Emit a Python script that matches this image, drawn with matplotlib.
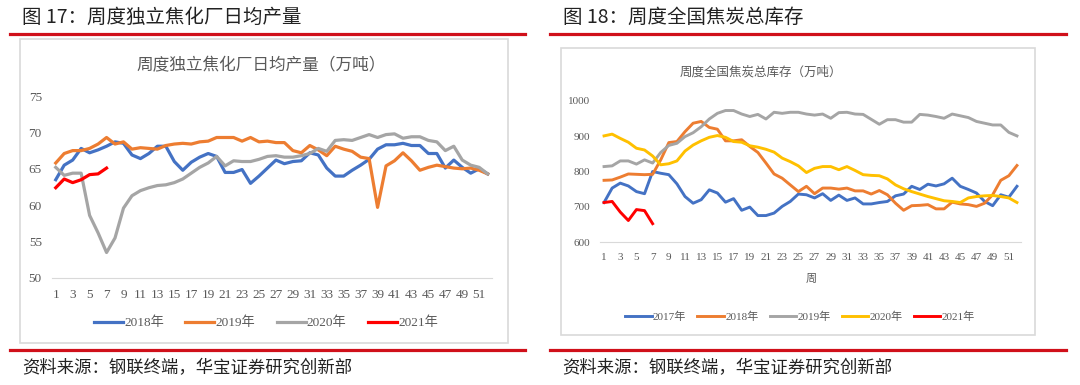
import matplotlib
matplotlib.use("Agg")
import matplotlib.pyplot as plt
from matplotlib.lines import Line2D
from matplotlib.patches import Rectangle

plt.rcParams['font.family'] = ['Noto Sans CJK SC', 'DejaVu Sans']

weeks = list(range(1, 53))

# 周度独立焦化厂日均产量（万吨）
prod_2018 = [63.5, 65.5, 66.2, 67.8, 67.2, 67.6, 68.1, 68.7, 68.5, 66.9,
             66.4, 67.1, 68.1, 68.1, 66.0, 64.8, 65.9, 66.6, 67.1, 66.7,
             64.5, 64.5, 64.9, 63.0, 64.0, 65.1, 66.2, 65.7, 66.0, 66.1,
             67.2, 66.9, 65.1, 64.0, 64.0, 64.8, 65.5, 66.3, 67.7, 68.3,
             68.3, 68.5, 68.2, 68.2, 67.1, 67.1, 65.1, 66.2, 65.2, 64.4,
             65.0, 64.3]
prod_2019 = [65.8, 67.1, 67.5, 67.5, 67.8, 68.4, 69.3, 68.4, 68.7, 67.7,
             67.9, 67.8, 67.7, 68.2, 68.4, 68.5, 68.4, 68.7, 68.8, 69.3,
             69.3, 69.3, 68.8, 69.3, 68.7, 68.8, 68.6, 68.6, 67.5, 67.2,
             68.2, 67.6, 66.8, 68.1, 67.7, 67.4, 66.6, 66.4, 59.7, 65.4,
             66.1, 67.2, 66.1, 64.8, 65.2, 65.5, 65.3, 65.1, 65.0, 65.1,
             64.8, 64.3]
prod_2020 = [65.2, 64.1, 64.4, 64.4, 58.6, 56.2, 53.5, 55.5, 59.6, 61.3,
             62.0, 62.4, 62.7, 62.8, 63.1, 63.6, 64.4, 65.2, 65.8, 66.7,
             65.4, 66.1, 66.0, 66.0, 66.3, 66.7, 66.8, 66.6, 66.6, 66.8,
             67.1, 67.8, 67.4, 68.9, 69.0, 68.9, 69.3, 69.7, 69.3, 69.7,
             69.8, 69.2, 69.4, 69.4, 68.9, 68.7, 67.5, 68.1, 66.2, 65.5,
             65.2, 64.3]
prod_2021 = [62.4, 63.6, 63.1, 63.5, 64.2, 64.3, 65.1]

# 周度全国焦炭总库存（万吨）
stock_2017 = [712, 753, 767, 759, 743, 737, 800, 795, 791, 765,
              729, 710, 720, 748, 739, 713, 723, 690, 699, 675,
              675, 682, 701, 715, 736, 734, 725, 737, 718, 733,
              718, 725, 708, 708, 712, 715, 731, 736, 758, 749,
              764, 759, 765, 781, 758, 749, 739, 715, 703, 734,
              727, 758]
stock_2018 = [775, 776, 784, 793, 792, 791, 792, 833, 882, 885,
              913, 937, 942, 925, 920, 887, 887, 890, 871, 854,
              824, 793, 781, 762, 743, 758, 737, 753, 753, 750,
              753, 745, 745, 736, 746, 734, 710, 690, 703, 704,
              706, 694, 694, 713, 708, 706, 701, 710, 734, 775,
              788, 817]
stock_2019 = [814, 816, 830, 830, 821, 833, 824, 854, 874, 880,
              899, 910, 927, 949, 965, 973, 973, 963, 956, 962,
              949, 968, 965, 968, 968, 963, 960, 963, 951, 967,
              968, 963, 962, 948, 934, 947, 947, 940, 940, 962,
              960, 956, 951, 963, 958, 953, 942, 937, 932, 932,
              911, 901]
stock_2020 = [901, 906, 894, 883, 866, 861, 844, 819, 822, 830,
              858, 875, 887, 897, 902, 897, 885, 883, 873, 869,
              863, 855, 838, 828, 816, 797, 809, 814, 814, 805,
              814, 803, 791, 789, 788, 779, 762, 751, 743, 736,
              729, 723, 717, 715, 712, 725, 729, 731, 732, 729,
              725, 712]
stock_2021 = [712, 715, 685, 661, 692, 689, 652]

left_series = [("2018年", prod_2018, "#4472C4"), ("2019年", prod_2019, "#ED7D31"),
               ("2020年", prod_2020, "#A5A5A5"), ("2021年", prod_2021, "#FF0000")]
right_series = [("2017年", stock_2017, "#4472C4"), ("2018年", stock_2018, "#ED7D31"),
                ("2019年", stock_2019, "#A5A5A5"), ("2020年", stock_2020, "#FFC000"),
                ("2021年", stock_2021, "#FF0000")]

W, H = 1080, 385
fig = plt.figure(figsize=(W / 100, H / 100), dpi=100)
fig.patch.set_facecolor("white")

serif = ['Liberation Serif', 'Noto Sans CJK SC', 'DejaVu Sans']
red = "#D0101A"


def box(x0, y0, x1, y1):
    # pixel box -> figure fraction [left, bottom, width, height]
    return [x0 / W, 1 - y1 / H, (x1 - x0) / W, (y1 - y0) / H]


def hline(x0, x1, y):
    fig.add_artist(Line2D([x0 / W, x1 / W], [1 - y / H, 1 - y / H],
                          transform=fig.transFigure, color=red, lw=2.3))


def frame(x0, y0, x1, y1):
    b = box(x0, y0, x1, y1)
    fig.add_artist(Rectangle((b[0], b[1]), b[2], b[3], transform=fig.transFigure,
                             fill=False, edgecolor="#D9D9D9", lw=1.2))


def style_axes(ax, size, ylim, yticks):
    ax.set_xlim(0.5, 52.5)
    ax.set_ylim(*ylim)
    ax.set_yticks(yticks)
    ax.set_xticks(range(1, 53, 2))
    for s in ["top", "right", "left"]:
        ax.spines[s].set_visible(False)
    ax.spines["bottom"].set_color("#D9D9D9")
    ax.tick_params(length=0, labelcolor="#595959", labelsize=size, pad=7)
    ax.tick_params(axis="x", pad=8)
    for lab in ax.get_xticklabels() + ax.get_yticklabels():
        lab.set_family(serif)


# ---- headers, rules, frames
fig.text(22 / W, 1 - 17 / H, "图 17：周度独立焦化厂日均产量", fontsize=14,
         va="center", ha="left", color="#222222")
fig.text(563 / W, 1 - 17 / H, "图 18：周度全国焦炭总库存", fontsize=14,
         va="center", ha="left", color="#222222")
hline(10, 525, 34)
hline(550, 1066, 34)
hline(10, 525, 350)
hline(550, 1066, 350)
frame(20, 39, 508, 343)
frame(561, 48, 1035, 335)
fig.text(22 / W, 1 - 368 / H, "资料来源：钢联终端，华宝证券研究创新部", fontsize=12.5,
         va="center", ha="left", color="#222222")
fig.text(562 / W, 1 - 368 / H, "资料来源：钢联终端，华宝证券研究创新部", fontsize=12.5,
         va="center", ha="left", color="#222222")

# ---- left chart
ax1 = fig.add_axes(box(51.5, 96, 491.9, 278))
for name, vals, col in left_series:
    ax1.plot(weeks[:len(vals)], vals, color=col, lw=2.3, label=name,
             solid_joinstyle="round")
style_axes(ax1, 9.5, (50, 75), range(50, 76, 5))
fig.text(261 / W, 1 - 66 / H, "周度独立焦化厂日均产量（万吨）", fontsize=12,
         ha="center", va="center", color="#595959")
ax1.legend(loc="center", bbox_to_anchor=(266 / W, 1 - 323 / H),
           bbox_transform=fig.transFigure, ncol=4, frameon=False,
           prop={"family": serif, "size": 9.5}, handlelength=2.2,
           columnspacing=1.6, handletextpad=0.1, labelcolor="#595959")

# ---- right chart
ax2 = fig.add_axes(box(600, 101, 1021, 242))
for name, vals, col in right_series:
    ax2.plot(weeks[:len(vals)], vals, color=col, lw=2.1, label=name,
             solid_joinstyle="round")
style_axes(ax2, 8, (600, 1000), range(600, 1001, 100))
fig.text(761 / W, 1 - 72 / H, "周度全国焦炭总库存（万吨）", fontsize=9,
         ha="center", va="center", color="#595959")
fig.text(811 / W, 1 - 279 / H, "周", fontsize=8, ha="center", va="center",
         color="#595959")
ax2.legend(loc="center", bbox_to_anchor=(800 / W, 1 - 317 / H),
           bbox_transform=fig.transFigure, ncol=5, frameon=False,
           prop={"family": serif, "size": 8}, handlelength=2.4,
           columnspacing=1.0, handletextpad=0.1, labelcolor="#595959")

fig.savefig("out.png", dpi=100)
